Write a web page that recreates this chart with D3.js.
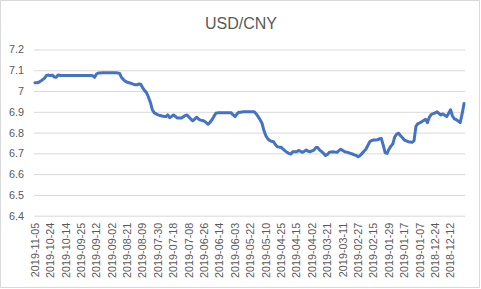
<!DOCTYPE html>
<html>
<head>
<meta charset="utf-8">
<script src="https://cdn.jsdelivr.net/npm/d3@7"></script>
<style>
  body { margin: 0; background: #fff; }
  text { font-family: "Liberation Sans", Arial, sans-serif; fill: #595959; }
</style>
</head>
<body>
<div id="chart"></div>
<script>
// tick labels on the x axis (one every 8 trading days, newest first)
const tickLabels = [
  '2019-11-05','2019-10-24','2019-10-14','2019-09-25','2019-09-12','2019-09-02','2019-08-21',
  '2019-08-09','2019-07-30','2019-07-18','2019-07-08','2019-06-26','2019-06-14','2019-06-03',
  '2019-05-22','2019-05-10','2019-04-25','2019-04-15','2019-04-02','2019-03-21','2019-03-11',
  '2019-02-27','2019-02-15','2019-01-29','2019-01-17','2019-01-07','2018-12-24','2018-12-12'
]
const labelEvery = 8

// USD/CNY rate, newest first
const rates = [
  7.04, 7.04, 7.042, 7.048, 7.055, 7.062, 7.075, 7.077,
  7.074, 7.077, 7.068, 7.066, 7.077, 7.075, 7.075, 7.075,
  7.075, 7.075, 7.075, 7.075, 7.075, 7.075, 7.075, 7.075,
  7.075, 7.075, 7.075, 7.075, 7.075, 7.075, 7.074, 7.066,
  7.082, 7.087, 7.087, 7.088, 7.088, 7.088, 7.088, 7.088,
  7.088, 7.088, 7.088, 7.087, 7.085, 7.065, 7.055, 7.047,
  7.042, 7.04, 7.037, 7.033, 7.03, 7.03, 7.034, 7.033,
  7.015, 7.002, 6.992, 6.97, 6.945, 6.91, 6.895, 6.89,
  6.885, 6.882, 6.88, 6.878, 6.877, 6.885, 6.872, 6.878,
  6.885, 6.878, 6.87, 6.87, 6.87, 6.875, 6.882, 6.885,
  6.875, 6.865, 6.857, 6.865, 6.874, 6.866, 6.86, 6.858,
  6.855, 6.848, 6.84, 6.85, 6.862, 6.878, 6.893, 6.895,
  6.895, 6.896, 6.896, 6.895, 6.895, 6.896, 6.895, 6.885,
  6.877, 6.89, 6.898, 6.898, 6.9, 6.9, 6.9, 6.9,
  6.9, 6.9, 6.9, 6.89, 6.877, 6.862, 6.845, 6.81,
  6.785, 6.77, 6.762, 6.758, 6.756, 6.742, 6.732, 6.73,
  6.729, 6.72, 6.712, 6.705, 6.7, 6.697, 6.708, 6.708,
  6.708, 6.714, 6.71, 6.705, 6.71, 6.716, 6.71, 6.708,
  6.712, 6.716, 6.728, 6.728, 6.716, 6.708, 6.7, 6.69,
  6.695, 6.705, 6.707, 6.708, 6.706, 6.705, 6.714, 6.72,
  6.714, 6.708, 6.706, 6.703, 6.7, 6.697, 6.693, 6.69,
  6.684, 6.69, 6.7, 6.71, 6.72, 6.738, 6.756, 6.762,
  6.764, 6.764, 6.765, 6.77, 6.772, 6.74, 6.703, 6.7,
  6.72, 6.735, 6.746, 6.78, 6.793, 6.797, 6.785, 6.775,
  6.764, 6.76, 6.756, 6.755, 6.753, 6.76, 6.83, 6.843,
  6.847, 6.852, 6.858, 6.864, 6.848, 6.875, 6.888, 6.891,
  6.895, 6.9, 6.892, 6.885, 6.89, 6.883, 6.877, 6.893,
  6.91, 6.88, 6.866, 6.862, 6.855, 6.848, 6.89, 6.94
]

const yTicks = [6.4, 6.5, 6.6, 6.7, 6.8, 6.9, 7, 7.1, 7.2]

const W = 481, H = 289
const plot = { left: 34, right: 465, top: 49.5, bottom: 215.7 }

const svg = d3.select('#chart').append('svg')
  .attr('width', W)
  .attr('height', H)

// chart border
svg.append('rect')
  .attr('x', 0.5).attr('y', 0.5)
  .attr('width', W - 2).attr('height', H - 2)
  .attr('fill', '#fff')
  .attr('stroke', '#d9d9d9')

const idx = d3.range(rates.length)

const x = d3.scaleBand()
  .domain(idx)
  .range([plot.left, plot.right])

const y = d3.scaleLinear()
  .domain([6.4, 7.2])
  .range([plot.bottom, plot.top])

// gridlines + y labels
const yAxis = d3.axisLeft(y)
  .tickValues(yTicks)
  .tickSize(-(plot.right - plot.left))
  .tickPadding(10)
  .tickFormat(d => d3.format('')(+d.toFixed(1)))

svg.append('g')
  .attr('transform', 'translate(' + plot.left + ',0)')
  .call(yAxis)
  .call(g => g.select('.domain').remove())
  .call(g => g.selectAll('line').attr('stroke', '#d9d9d9'))
  .call(g => g.selectAll('text')
    .attr('font-size', '10.8px')
    .attr('fill', '#595959')
    .attr('font-family', '"Liberation Sans", Arial, sans-serif'))

// x labels, rotated
const xAxis = d3.axisBottom(x)
  .tickValues(tickLabels.map((d, i) => i * labelEvery))
  .tickSize(0)
  .tickPadding(0)
  .tickFormat(d => tickLabels[d / labelEvery])

svg.append('g')
  .attr('transform', 'translate(0,' + plot.bottom + ')')
  .call(xAxis)
  .call(g => g.select('.domain').remove())
  .call(g => g.selectAll('text')
    .attr('font-size', '10.8px')
    .attr('fill', '#595959')
    .attr('font-family', '"Liberation Sans", Arial, sans-serif')
    .attr('text-anchor', 'end')
    .attr('transform', 'rotate(-90)')
    .attr('x', -7)
    .attr('y', 0)
    .attr('dy', '0.35em'))

// the line
const line = d3.line()
  .x((d, i) => x(i) + x.bandwidth() / 2)
  .y(d => y(d))

svg.append('path')
  .datum(rates)
  .attr('d', line)
  .attr('fill', 'none')
  .attr('stroke', '#4472c4')
  .attr('stroke-width', 3)
  .attr('stroke-linejoin', 'round')
  .attr('stroke-linecap', 'round')

// title
svg.append('text')
  .attr('x', 241)
  .attr('y', 29)
  .attr('text-anchor', 'middle')
  .attr('font-size', '16px')
  .text('USD/CNY')
</script>
</body>
</html>
